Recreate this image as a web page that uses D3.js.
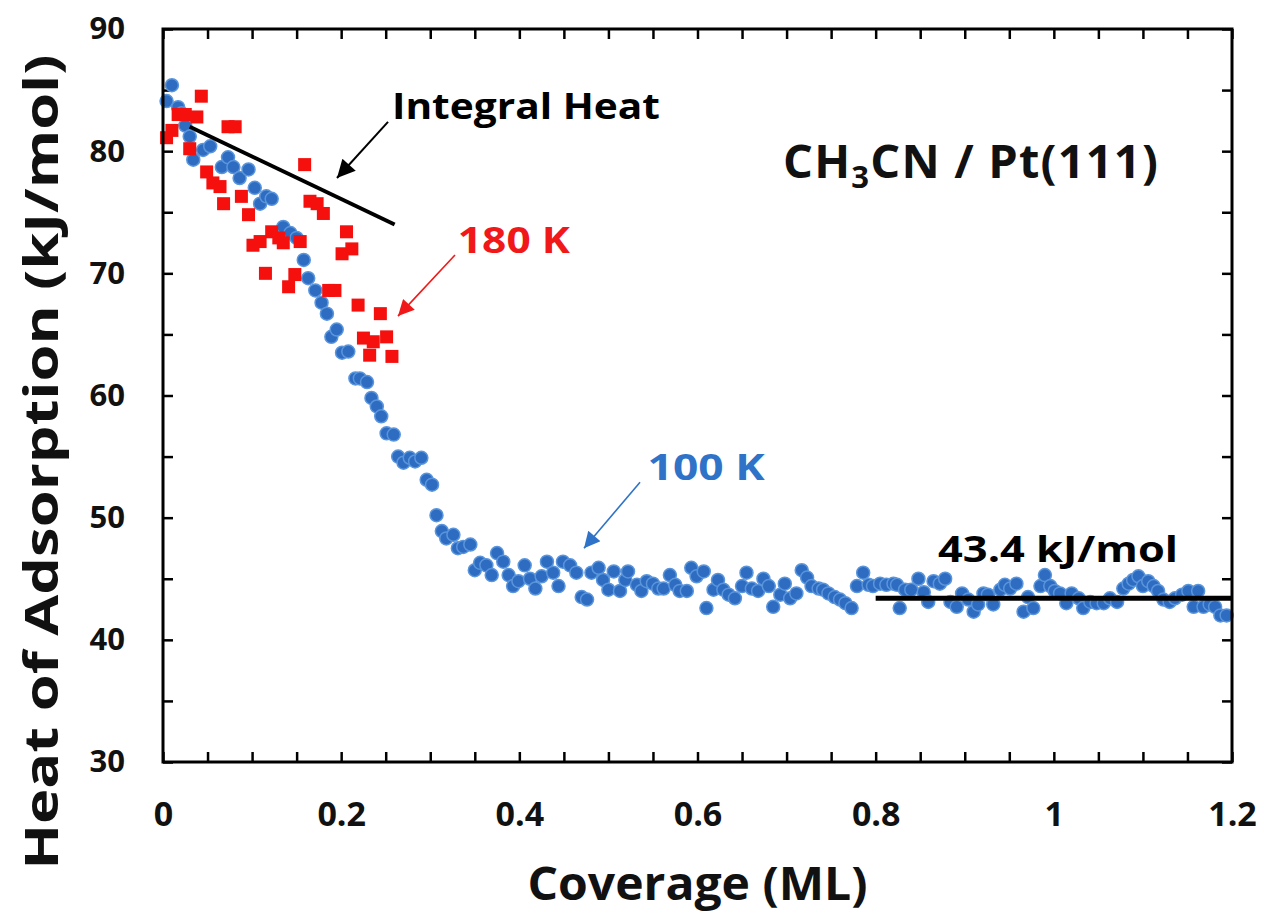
<!DOCTYPE html>
<html>
<head>
<meta charset="utf-8">
<script src="https://cdn.jsdelivr.net/npm/d3@7"></script>
<style>
  body { margin: 0; background: #fff; }
  svg text { font-family: "Open Sans", "DejaVu Sans", sans-serif; font-weight: bold; }
</style>
</head>
<body>
<div class="chart"></div>
<script>
// 100 K data (blue circles)
const blueX = [0.004, 0.010, 0.017, 0.021, 0.025, 0.030, 0.034, 0.045, 0.053, 0.066, 0.073, 0.079, 0.086, 0.096,
  0.103, 0.109, 0.116, 0.122, 0.135, 0.143, 0.150, 0.158, 0.163, 0.171, 0.178, 0.184, 0.189, 0.195, 0.201, 0.208,
  0.216, 0.221, 0.229, 0.234, 0.240, 0.245, 0.251, 0.259, 0.264, 0.270, 0.277, 0.283, 0.290, 0.296, 0.302, 0.307,
  0.313, 0.318, 0.326, 0.331, 0.337, 0.345, 0.350, 0.356, 0.363, 0.369, 0.375, 0.382, 0.388, 0.393, 0.399, 0.406,
  0.412, 0.418, 0.425, 0.431, 0.438, 0.444, 0.449, 0.457, 0.464, 0.470, 0.476, 0.481, 0.489, 0.494, 0.500, 0.506,
  0.513, 0.519, 0.522, 0.532, 0.537, 0.543, 0.550, 0.556, 0.562, 0.569, 0.575, 0.580, 0.588, 0.593, 0.599, 0.607,
  0.610, 0.618, 0.623, 0.629, 0.635, 0.642, 0.650, 0.655, 0.661, 0.668, 0.674, 0.680, 0.685, 0.693, 0.698, 0.704,
  0.711, 0.717, 0.723, 0.728, 0.736, 0.741, 0.747, 0.754, 0.760, 0.766, 0.773, 0.779, 0.786, 0.792, 0.797, 0.805,
  0.812, 0.820, 0.824, 0.827, 0.833, 0.840, 0.848, 0.854, 0.859, 0.865, 0.872, 0.878, 0.884, 0.891, 0.897, 0.904,
  0.910, 0.915, 0.921, 0.926, 0.932, 0.940, 0.945, 0.951, 0.958, 0.966, 0.971, 0.977, 0.985, 0.990, 0.996, 1.001,
  1.007, 1.014, 1.020, 1.028, 1.033, 1.041, 1.048, 1.056, 1.063, 1.071, 1.078, 1.084, 1.089, 1.095, 1.100, 1.106,
  1.112, 1.117, 1.123, 1.130, 1.136, 1.144, 1.151, 1.157, 1.162, 1.168, 1.175, 1.181, 1.187, 1.194];
const blueY = [84.1, 85.4, 83.6, 83.1, 82.1, 81.2, 79.3, 80.1, 80.4, 78.7, 79.5, 78.7, 77.8, 78.5,
  77.0, 75.7, 76.3, 76.1, 73.8, 73.3, 72.9, 71.1, 69.6, 68.6, 67.6, 66.7, 64.8, 65.4, 63.5, 63.6,
  61.4, 61.4, 61.1, 59.8, 59.1, 58.3, 56.9, 56.8, 55.0, 54.5, 54.9, 54.6, 54.9, 53.1, 52.7, 50.2,
  48.9, 48.3, 48.6, 47.5, 47.6, 47.8, 45.7, 46.3, 46.1, 45.3, 47.1, 46.4, 45.3, 44.4, 44.8, 46.1,
  45.0, 44.2, 45.2, 46.4, 45.5, 44.4, 46.4, 46.1, 45.5, 43.5, 43.3, 45.5, 45.9, 44.9, 44.1, 45.6,
  44.0, 44.9, 45.6, 44.5, 44.0, 44.8, 44.6, 44.2, 44.2, 45.3, 44.5, 44.0, 44.0, 45.9, 45.2, 45.6,
  42.6, 44.1, 44.9, 44.1, 43.7, 43.4, 44.4, 45.5, 44.2, 44.0, 45.0, 44.4, 42.7, 43.7, 44.6, 43.4,
  43.8, 45.7, 45.1, 44.4, 44.2, 44.1, 43.8, 43.5, 43.3, 43.0, 42.6, 44.4, 45.5, 44.5, 44.4, 44.6,
  44.5, 44.6, 44.5, 42.6, 44.1, 44.1, 45.0, 43.9, 43.1, 44.8, 44.6, 45.0, 43.1, 42.7, 43.8, 43.3,
  42.3, 42.9, 43.8, 43.7, 42.9, 44.1, 44.5, 44.2, 44.6, 42.3, 43.5, 42.6, 44.4, 45.3, 44.4, 44.0,
  43.8, 43.0, 43.8, 43.4, 42.6, 43.1, 43.0, 43.0, 43.4, 43.1, 44.2, 44.6, 44.9, 45.2, 44.4, 44.8,
  44.4, 44.0, 43.3, 43.1, 43.4, 43.7, 44.0, 42.7, 44.0, 42.7, 42.9, 42.7, 42.0, 42.0];

// 180 K data (red squares)
const redX = [0.004, 0.010, 0.017, 0.025, 0.030, 0.038, 0.043, 0.049, 0.056, 0.064, 0.068, 0.073, 0.081, 0.088,
  0.096, 0.101, 0.109, 0.115, 0.122, 0.130, 0.135, 0.141, 0.148, 0.154, 0.159, 0.165, 0.173, 0.180, 0.186, 0.193,
  0.201, 0.206, 0.212, 0.219, 0.225, 0.232, 0.236, 0.244, 0.251, 0.257];
const redY = [81.1, 81.7, 83.0, 83.0, 80.2, 82.8, 84.5, 78.3, 77.4, 77.1, 75.7, 82.0, 82.0, 76.3,
  74.8, 72.3, 72.6, 70.0, 73.4, 72.9, 72.5, 68.9, 69.9, 72.6, 78.9, 75.9, 75.7, 74.9, 68.6, 68.6,
  71.6, 73.4, 72.0, 67.4, 64.7, 63.3, 64.4, 66.7, 64.8, 63.2];

// axes
const xDomain = [0, 1.2];
const yDomain = [30, 90];
const xTickLabels = [0, 0.2, 0.4, 0.6, 0.8, 1, 1.2];
const yTickLabels = [30, 40, 50, 60, 70, 80, 90];

// fitted lines and annotation arrows, in data units
const integralLine = [[0.03, 82.0], [0.26, 74.0]];
const plateauLine = [[0.8, 43.4], [1.2, 43.4]];
const arrows = [
  { from: [0.2526, 82.4], to: [0.1953, 77.8], color: '#000000' },
  { from: [0.3278, 71.5], to: [0.2638, 66.5], color: '#f01818' },
  { from: [0.5355, 52.9], to: [0.4726, 47.5], color: '#2f73c8' }
];

const width = 1264, height = 917;
const margin = { top: 29, right: 32, bottom: 155, left: 163 };
const innerW = width - margin.left - margin.right;
const innerH = height - margin.top - margin.bottom;

const svg = d3.select('.chart').append('svg').attr('width', width).attr('height', height);
const defs = svg.append('defs');
arrows.forEach((a, i) => {
  defs.append('marker').attr('id', 'head' + i)
    .attr('viewBox', '0 0 10 10').attr('refX', 10).attr('refY', 5)
    .attr('markerUnits', 'userSpaceOnUse')
    .attr('markerWidth', i === 0 ? 22 : 20).attr('markerHeight', i === 0 ? 18 : 16)
    .attr('orient', 'auto')
    .append('path').attr('d', 'M0,0 L10,5 L0,10 Z').attr('fill', a.color);
});

const g = svg.append('g').attr('transform', `translate(${margin.left},${margin.top})`);
const x = d3.scaleLinear().domain(xDomain).range([0, innerW]);
const y = d3.scaleLinear().domain(yDomain).range([innerH, 0]);

const xMinor = d3.range(0, 1.2001, 0.05);
const yMinor = d3.range(30, 90.001, 5);

// ticks on all four sides, pointing inward
function styleAxis(sel) {
  sel.select('.domain').remove();
  sel.selectAll('.tick line').attr('stroke', '#000').attr('stroke-width', 2.5);
}
g.append('g').attr('transform', `translate(0,${innerH})`)
  .call(d3.axisBottom(x).tickValues(xMinor).tickSize(-10).tickFormat(''))
  .call(styleAxis);
g.append('g')
  .call(d3.axisTop(x).tickValues(xMinor).tickSize(-10).tickFormat(''))
  .call(styleAxis);
g.append('g')
  .call(d3.axisLeft(y).tickValues(yMinor).tickSize(-10).tickFormat(''))
  .call(styleAxis);
g.append('g').attr('transform', `translate(${innerW},0)`)
  .call(d3.axisRight(y).tickValues(yMinor).tickSize(-10).tickFormat(''))
  .call(styleAxis);

// tick labels
const xl = g.append('g').attr('transform', `translate(0,${innerH})`)
  .call(d3.axisBottom(x).tickValues(xTickLabels).tickSize(0).tickPadding(40).tickFormat(d3.format('')));
xl.select('.domain').remove();
xl.selectAll('text').attr('font-size', 34).attr('fill', '#111').attr('font-family', '"Open Sans", sans-serif');

const yl = g.append('g')
  .call(d3.axisLeft(y).tickValues(yTickLabels).tickSize(0).tickPadding(38));
yl.select('.domain').remove();
yl.selectAll('text').attr('font-size', 31).attr('fill', '#111').attr('font-family', '"DejaVu Sans", sans-serif');

// data points
g.append('g').selectAll('circle').data(blueX).enter().append('circle')
  .attr('cx', d => x(d)).attr('cy', (d, i) => y(blueY[i])).attr('r', 6.5)
  .attr('fill', '#2d6cc0').attr('stroke', '#5a95dc').attr('stroke-width', 1.5);

g.append('g').selectAll('rect').data(redX).enter().append('rect')
  .attr('x', d => x(d) - 6.5).attr('y', (d, i) => y(redY[i]) - 6.5)
  .attr('width', 13).attr('height', 13).attr('fill', '#f5100e');

// black lines
const line = d3.line().x(d => x(d[0])).y(d => y(d[1]));
g.append('path').attr('d', line(integralLine)).attr('stroke', '#000').attr('stroke-width', 4).attr('fill', 'none');
g.append('path').attr('d', line(plateauLine)).attr('stroke', '#000').attr('stroke-width', 5).attr('fill', 'none');

// frame
g.append('rect').attr('width', innerW).attr('height', innerH)
  .attr('fill', 'none').attr('stroke', '#000').attr('stroke-width', 3);

// arrows
arrows.forEach((a, i) => {
  g.append('line')
    .attr('x1', x(a.from[0])).attr('y1', y(a.from[1]))
    .attr('x2', x(a.to[0])).attr('y2', y(a.to[1]))
    .attr('stroke', a.color).attr('stroke-width', i === 0 ? 2 : 1.6)
    .attr('marker-end', `url(#head${i})`);
});

// annotation texts
g.append('text').attr('x', x(0.257)).attr('y', y(82.6)).attr('font-size', 36)
  .attr('textLength', 268).attr('lengthAdjust', 'spacingAndGlyphs').text('Integral Heat');
g.append('text').attr('x', x(0.331)).attr('y', y(71.7)).attr('font-size', 36).attr('fill', '#f01818')
  .attr('textLength', 112).attr('lengthAdjust', 'spacingAndGlyphs').text('180 K');
g.append('text').attr('x', x(0.544)).attr('y', y(53.1)).attr('font-size', 36).attr('fill', '#2f73c8')
  .attr('textLength', 117).attr('lengthAdjust', 'spacingAndGlyphs').text('100 K');
g.append('text').attr('x', x(0.870)).attr('y', y(46.4)).attr('font-size', 36)
  .attr('textLength', 240).attr('lengthAdjust', 'spacingAndGlyphs').text('43.4 kJ/mol');

const title = g.append('text').attr('x', 620).attr('y', 149).attr('font-size', 47).attr('fill', '#111')
  .attr('letter-spacing', 1.2);
title.append('tspan').text('CH');
title.append('tspan').attr('font-size', 31).attr('dy', 10).text('3');
title.append('tspan').attr('dy', -10).text('CN / Pt(111)');

// axis titles
svg.append('text').attr('x', margin.left + innerW / 2).attr('y', 900).attr('text-anchor', 'middle')
  .attr('font-size', 46).attr('fill', '#111')
  .attr('textLength', 340).attr('lengthAdjust', 'spacingAndGlyphs').text('Coverage (ML)');
svg.append('text').attr('transform', 'translate(58,462) rotate(-90)').attr('text-anchor', 'middle')
  .attr('font-size', 46).attr('fill', '#111')
  .attr('textLength', 815).attr('lengthAdjust', 'spacingAndGlyphs').text('Heat of Adsorption (kJ/mol)');
</script>
</body>
</html>
